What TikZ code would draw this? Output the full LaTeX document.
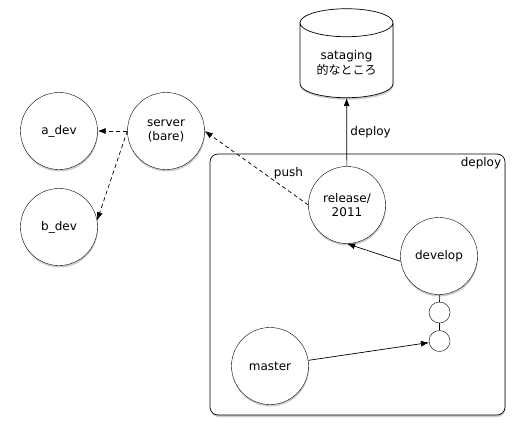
\documentclass[tikz,border=0pt]{standalone}
\usepackage{fontspec}
\setmainfont{DejaVu Sans}
\newfontfamily\jpfont{Noto Sans CJK JP}
\usetikzlibrary{shapes.geometric,shadows,arrows.meta}

\begin{document}
\begin{tikzpicture}[x=1pt,y=-1pt,
        font=\fontsize{12}{14.5}\selectfont,
        >={Latex[length=8pt,width=6pt]},
        shade/.style={drop shadow={shadow xshift=0.5pt,shadow yshift=-2pt,opacity=.4}},
        branch/.style={circle,draw,fill=white,shade,minimum size=77pt,inner sep=0pt,align=center},
        commit/.style={circle,draw,fill=white,minimum size=21pt,inner sep=0pt},
        link/.style={line width=0.7pt},
        remote/.style={link,dash pattern=on 4pt off 3pt}]
    \useasboundingbox (0,0) rectangle (526,439);
    %% deploy area
    \node[draw,fill=white,shade,rounded corners=8pt,minimum width=295pt,minimum height=261pt,line width=0.7pt] (deploybox) at (357.5,284.5) {};
    \node[anchor=north east,inner sep=4pt] (deploylabel) at (deploybox.north east) {deploy};
    %% staging
    \node[cylinder,shape border rotate=90,draw,fill=white,shade,aspect=0.42,
        minimum width=93pt,minimum height=89pt,align=center,line width=0.7pt] (staging) at (346.5,63)
        {sataging\\{\jpfont 的なところ}};
    %% developers
    \node[branch] (adev) at (59,131) {a\_dev};
    \node[branch] (bdev) at (59,227) {b\_dev};
    \node[branch] (server) at (166,131) {server\\(bare)};
    %% branches
    \node[branch] (release) at (347,205) {release/\\2011};
    \node[branch] (develop) at (439,256) {develop};
    \node[branch] (master) at (270,366) {master};
    \node[commit] (c1) at (439.5,312.5) {};
    \node[commit] (c2) at (439.5,341) {};
    %% connectors
    \draw[link,->] (release) -- node[right] {deploy} (staging);
    \draw[remote,->] (release.west) -- node[pos=0.34,anchor=south west,inner sep=0.5pt] {push} (server.east);
    \draw[remote,->] (server.west) -- (adev.east);
    \draw[remote,->] (server.west) -- (bdev.10);
    \draw[link,->] (develop.188) -- (release.south);
    \draw[link] (develop) -- (c1);
    \draw[link] (c1) -- (c2);
    \draw[link,->] (master) -- (c2);
\end{tikzpicture}
\end{document}
